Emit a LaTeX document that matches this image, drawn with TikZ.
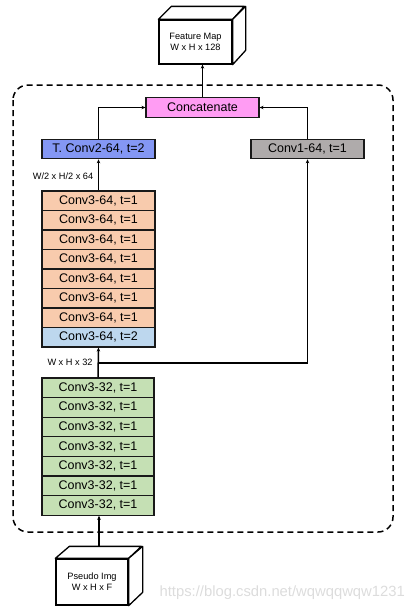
\documentclass[tikz,border=0pt]{standalone}
\usepackage{fontspec}
\setmainfont{Liberation Sans}
\usetikzlibrary{arrows.meta,calc}
\definecolor{peach}{HTML}{F8CBAD}
\definecolor{lblue}{HTML}{BDD7EE}
\definecolor{lgreen}{HTML}{C5E0B4}
\definecolor{tblue}{HTML}{8497F4}
\definecolor{pinkc}{HTML}{FF9CF3}
\definecolor{grayc}{HTML}{AFABAB}
\definecolor{wm}{HTML}{DCDCDC}
\tikzset{
  x=1pt,y=-1pt,
  layer/.style={draw=black!90,line width=1.1pt,minimum width=113pt,minimum height=19.5pt,inner sep=0pt,
    font=\fontsize{12.5}{14}\selectfont},
  cubefront/.style={draw=black,line width=1.3pt,fill=white,inner sep=0pt,align=center,
    font=\fontsize{9.2}{11}\selectfont},
  cubeface/.style={draw=black,line width=1.3pt,fill=white,line join=round},
  conn/.style={line width=1.5pt,-{Stealth[length=4pt,width=3.5pt]}},
  thinconn/.style={line width=1.1pt,-{Stealth[length=4pt,width=3.5pt]}},
  dimlabel/.style={font=\fontsize{9.2}{11}\selectfont,inner sep=0pt},
  frame/.style={dashed,dash pattern=on 6pt off 4pt,line width=1.5pt,rounded corners=15pt}
}
\begin{document}
\begin{tikzpicture}
\useasboundingbox (0,0) rectangle (414,613);
% dashed frame
\draw[frame] (13,85) rectangle (393,532);
% feature map cube
\node[cubefront,minimum width=73pt,minimum height=44pt] (fm) at (195.5,42) {Feature Map\\W x H x 128};
\draw[cubeface] (fm.north west) -- ++(13,-13) -- ++(73,0) -- (fm.north east) -- cycle;
\draw[cubeface] (fm.north east) -- ++(13,-13) -- ++(0,44) -- (fm.south east) -- cycle;
% pseudo img cube
\node[cubefront,minimum width=72pt,minimum height=46pt] (ps) at (92,582) {Pseudo Img\\W x H x F};
\draw[cubeface] (ps.north west) -- ++(14,-12) -- ++(72,0) -- (ps.north east) -- cycle;
\draw[cubeface] (ps.north east) -- ++(14,-12) -- ++(0,46) -- (ps.south east) -- cycle;
% concatenate & heads
\node[layer,fill=pinkc] (cat) at (202.5,107.5) {Concatenate};
\node[layer,fill=tblue] (tc) at (98.5,149) {T. Conv2-64, t=2};
\node[layer,fill=grayc] (c1) at (307.5,149) {Conv1-64, t=1};
% orange stack
\foreach \i in {1,...,7} {
  \node[layer,fill=peach] (o\i) at (98.5,{191+19.5*(\i-0.5)}) {Conv3-64, t=1};
}
\node[layer,fill=lblue] (o8) at (98.5,{191+19.5*7.5}) {Conv3-64, t=2};
% green stack
\foreach \i in {1,...,7} {
  \node[layer,fill=lgreen,minimum width=112pt,minimum height=19.6pt] (g\i) at (98,{378+19.6*(\i-0.5)}) {Conv3-32, t=1};
}
% labels
\node[dimlabel] (l1) at (63,176) {W/2 x H/2 x 64};
\node[dimlabel] (l2) at (70,362) {W x H x 32};
% connectors
\coordinate (pstop) at ($(ps.north)+(7,-12)$);
\coordinate (fmin) at ($(fm.south)+(7,0)$);
\coordinate (junc) at (98,363);
\draw[conn] (pstop) -- (pstop |- g7.south);
\draw[conn] (g1.north) -- (o8.south);
\draw[conn] (o1.north) -- (tc.south);
\draw[conn] (tc.north) |- (cat.west);
\draw[thinconn] (junc) -| (c1.south);
\draw[conn] (c1.north) |- (cat.east);
\draw[conn] (cat.north) -- (fmin);
% watermark
\node[anchor=east,text=wm,font=\fontsize{14.8}{17}\selectfont,inner sep=0pt] (wmk) at (405,593) {https://blog.csdn.net/wqwqqwqw1231};
\end{tikzpicture}
\end{document}
